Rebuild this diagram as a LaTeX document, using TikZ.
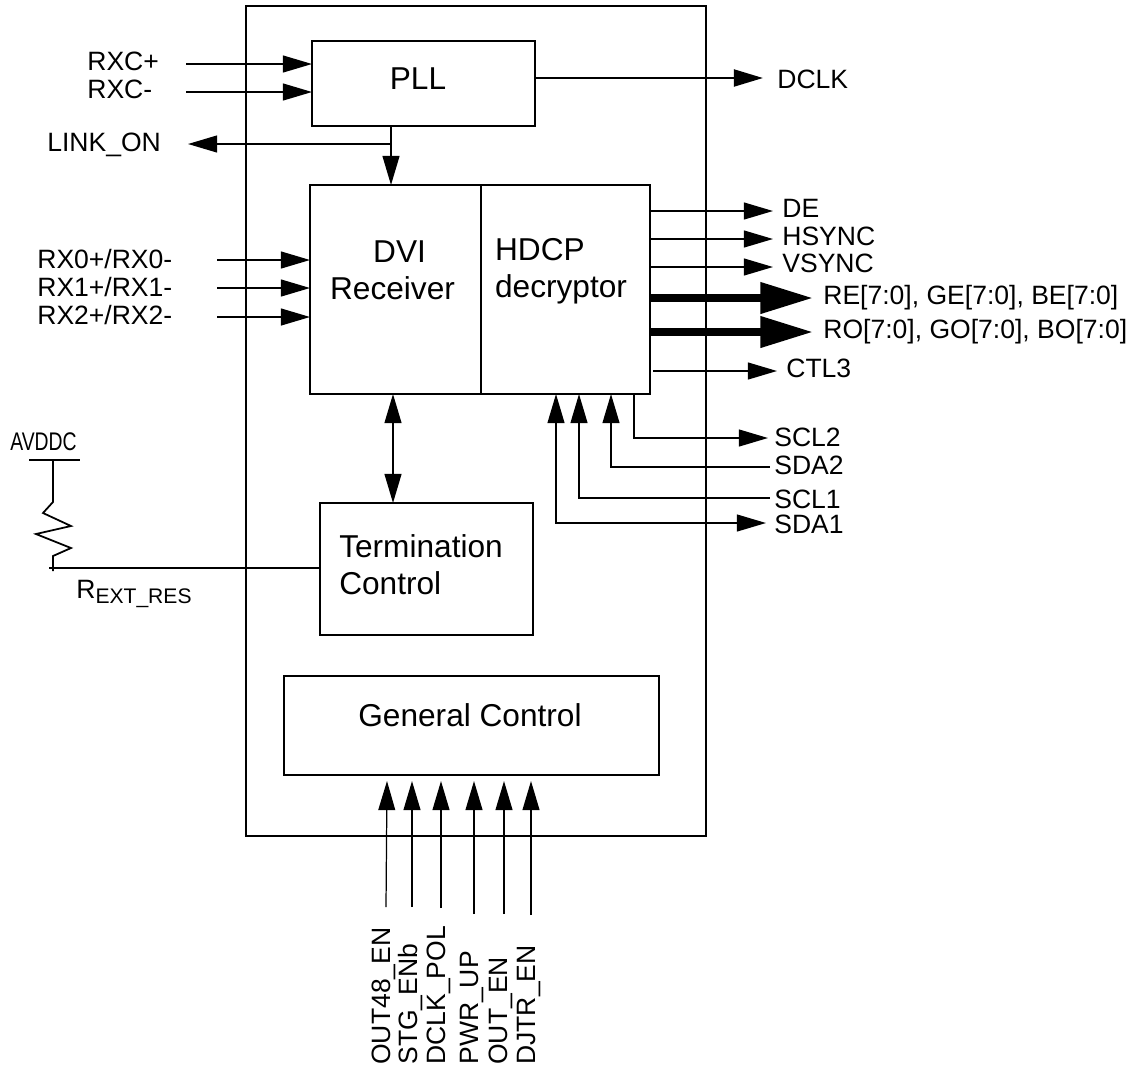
\documentclass[tikz,border=0pt]{standalone}
\usepackage{fontspec}
\usepackage{tikz}
\usetikzlibrary{arrows.meta}
\setmainfont{Liberation Sans}

\begin{document}
\begin{tikzpicture}[
    x=0.02cm, y=-0.02cm,
    box/.style={draw, line width=1.2pt, inner sep=0pt, outer sep=0pt},
    big/.style={font=\fontsize{18}{21}\selectfont, inner sep=0pt, align=left},
    lbl/.style={font=\fontsize{15.1}{18}\selectfont, inner sep=0pt, anchor=base west},
    vlbl/.style={lbl, rotate=90},
    wire/.style={line width=1pt},
    sig/.style={wire, -{Triangle[length=16.6pt,width=9.6pt]}},
    sigback/.style={wire, {Triangle[length=16.6pt,width=9.6pt]}-},
    sigboth/.style={wire, {Triangle[length=16.6pt,width=9.6pt]}-{Triangle[length=16.6pt,width=9.6pt]}},
    bus/.style={line width=4.4pt, -{Triangle[length=30pt,width=17pt]}}
  ]
  \useasboundingbox (0,0) rectangle (1135,1069);

  % blocks
  \node[box, minimum width=9.2cm, minimum height=16.6cm] (chip) at (476,421) {};
  \node[box, minimum width=4.46cm, minimum height=1.7cm] (pll) at (423.5,83.5) {};
  \node[box, minimum width=6.8cm, minimum height=4.18cm] (recv) at (480,289.5) {};
  \node[box, minimum width=4.26cm, minimum height=2.64cm] (term) at (426.5,569) {};
  \node[box, minimum width=7.5cm, minimum height=1.98cm] (gen) at (471.5,725.5) {};
  \draw[box] (481,185) -- (481,394);

  \node[big] (plltxt) at (418,79) {PLL};
  \node[big, align=center] (dvitxt) at (392.5,270) {\hspace*{8pt}DVI\\Receiver};
  \node[big] (hdcptxt) at (561,271.5) {HDCP\\decryptor};
  \node[big] (termtxt) at (421,564.5) {Termination\\Control};
  \node[big] (gentxt) at (470,715) {General Control};

  % left side
  \node[lbl] (rxcp) at (87,70) {RXC+};
  \node[lbl] (rxcm) at (87,98) {RXC-};
  \node[lbl] (linkon) at (47,151) {LINK\_ON};
  \node[lbl] (rx0) at (37,268) {RX0+/RX0-};
  \node[lbl] (rx1) at (37,296) {RX1+/RX1-};
  \node[lbl] (rx2) at (37,324) {RX2+/RX2-};

  \coordinate (rxcpin) at (186,64);
  \coordinate (rxcmin) at (186,92);
  \coordinate (rx0in) at (217,260);
  \coordinate (rx1in) at (217,288);
  \coordinate (rx2in) at (217,317);
  \coordinate (linktap) at (391,144);
  \coordinate (linkend) at (188,144);
  \draw[sig] (rxcpin) -- (rxcpin -| pll.west);
  \draw[sig] (rxcmin) -- (rxcmin -| pll.west);
  \draw[sig] (rx0in) -- (rx0in -| recv.west);
  \draw[sig] (rx1in) -- (rx1in -| recv.west);
  \draw[sig] (rx2in) -- (rx2in -| recv.west);
  \draw[sig] (linktap) -- (linkend);
  \draw[sig] (linktap |- pll.south) -- (linktap |- recv.north);

  % right side
  \node[lbl] (dclk) at (777,88) {DCLK};
  \node[lbl] (de) at (782,217) {DE};
  \node[lbl] (hsync) at (782,245) {HSYNC};
  \node[lbl] (vsync) at (782,272) {VSYNC};
  \node[lbl] (re) at (823,304) {RE[7:0], GE[7:0], BE[7:0]};
  \node[lbl] (ro) at (823,338) {RO[7:0], GO[7:0], BO[7:0]};
  \node[lbl] (ctl) at (786,377) {CTL3};
  \node[lbl] (scltwo) at (774,446) {SCL2};
  \node[lbl] (sdatwo) at (774,474) {SDA2};
  \node[lbl] (sclone) at (774,508) {SCL1};
  \node[lbl] (sdaone) at (774,533) {SDA1};

  \coordinate (dclkend) at (763,78);
  \coordinate (deend) at (773,211);
  \coordinate (hsyncend) at (773,239);
  \coordinate (vsyncend) at (773,267);
  \coordinate (reend) at (813,298);
  \coordinate (roend) at (813,332);
  \coordinate (ctlstart) at (653,371);
  \coordinate (ctlend) at (777,371);
  \coordinate (scltwoend) at (768,438);
  \coordinate (sdatwoend) at (770,467);
  \coordinate (scloneend) at (770,498);
  \coordinate (sdaoneend) at (766,523);
  \draw[sig, line width=1.5pt] (pll.east |- dclkend) -- (dclkend);
  \draw[sig] (recv.east |- deend) -- (deend);
  \draw[sig] (recv.east |- hsyncend) -- (hsyncend);
  \draw[sig] (recv.east |- vsyncend) -- (vsyncend);
  \draw[bus] (recv.east |- reend) -- (reend);
  \draw[bus] (recv.east |- roend) -- (roend);
  \draw[sig] (ctlstart) -- (ctlend);
  \draw[sig] (634,394) |- (scltwoend);
  \draw[sigback] (611,394) |- (sdatwoend);
  \draw[sigback] (579,394) |- (scloneend);
  \draw[sigboth] (556,394) |- (sdaoneend);
  \draw[sigboth] (393,394) -- (393,503);

  % external resistor
  \node[lbl, font=\fontsize{14.5}{18}\selectfont] (avddc) at (10,450) {\scalebox{0.76}[1]{AVDDC}};
  \node[lbl] (rext) at (76,598) {R\raisebox{-3pt}{\fontsize{12}{14}\selectfont EXT\_RES}};
  \coordinate (railleft) at (29,460);
  \coordinate (railright) at (80,460);
  \coordinate (railtap) at (53,460);
  \coordinate (restap) at (53,568);
  \draw[wire, line width=1.2pt] (railleft) -- (railright);
  \draw[wire] (railtap) -- (53,502) -- (43,513) -- (71,526) -- (36,534) -- (71,548) -- (53,556) -- (restap) -- +(0,3);
  \draw[wire] (49,568) -- (restap -| term.west);

  % bottom inputs
  \node[vlbl] (outfe) at (390,1065) {OUT48\_EN};
  \node[vlbl] (stg) at (417,1065) {STG\_ENb};
  \node[vlbl] (dclkpol) at (445,1065) {DCLK\_POL};
  \node[vlbl] (pwr) at (478,1065) {PWR\_UP};
  \node[vlbl] (outen) at (507,1065) {OUT\_EN};
  \node[vlbl] (djtr) at (535,1065) {DJTR\_EN};

  \coordinate (outfein) at (386,907);
  \coordinate (stgin) at (412,907);
  \coordinate (dclkpolin) at (441,908);
  \coordinate (pwrin) at (474,914);
  \coordinate (outenin) at (504,914);
  \coordinate (djtrin) at (531,915);
  \draw[sig, line width=0.7pt] (outfein) -- (387,781);
  \draw[sig] (stgin) -- (stgin |- 0,781);
  \draw[sig] (dclkpolin) -- (dclkpolin |- 0,781);
  \draw[sig] (pwrin) -- (pwrin |- 0,781);
  \draw[sig] (outenin) -- (outenin |- 0,781);
  \draw[sig] (djtrin) -- (djtrin |- 0,781);
\end{tikzpicture}
\end{document}
